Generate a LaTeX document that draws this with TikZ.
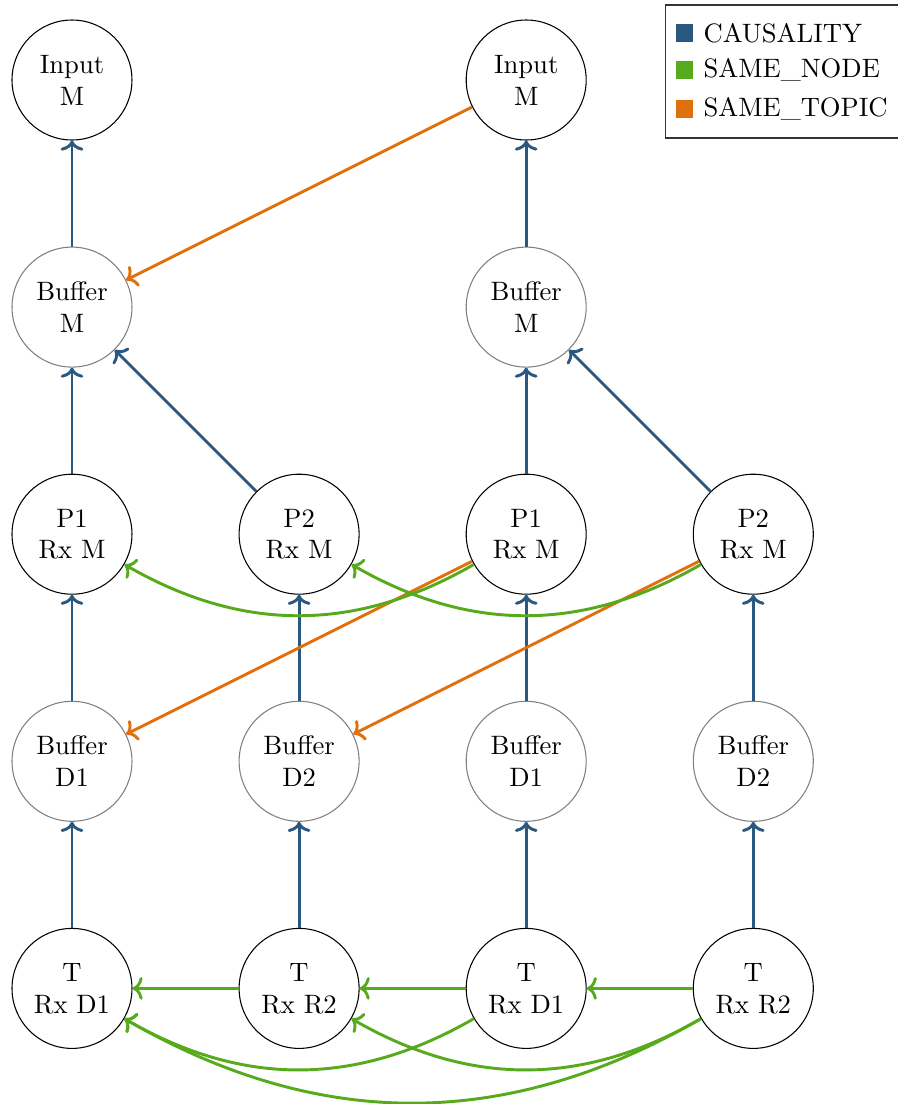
\documentclass[tikz,border=0pt]{standalone}
\usetikzlibrary{arrows.meta}
\definecolor{causal}{RGB}{41,88,128}
\definecolor{samenode}{RGB}{86,170,28}
\definecolor{sametopic}{RGB}{224,112,12}
\tikzset{
  proc/.style={circle,draw=black,line width=0.4pt,minimum size=1.585cm,inner sep=0pt,align=center},
  buf/.style={circle,draw=gray,line width=0.4pt,minimum size=1.585cm,inner sep=0pt,align=center},
  edge/.style={line width=1.1pt,-{To[length=3.8pt,width=8.5pt]}},
  causality/.style={edge,draw=causal},
  snode/.style={edge,draw=samenode},
  stopic/.style={edge,draw=sametopic},
  legsq/.style={fill=#1,minimum size=0.225cm,inner sep=0pt}
}
\begin{document}
\begin{tikzpicture}
\useasboundingbox (-0.951,1.057) rectangle (10.909,-13.527);
% row 0
\node[proc] (in0) at (0,0) {Input\\M};
\node[proc] (in2) at (6,0) {Input\\M};
% row 1
\node[buf] (bm0) at (0,-3) {Buffer\\M};
\node[buf] (bm2) at (6,-3) {Buffer\\M};
% row 2
\node[proc] (p10) at (0,-6) {P1\\Rx M};
\node[proc] (p21) at (3,-6) {P2\\Rx M};
\node[proc] (p12) at (6,-6) {P1\\Rx M};
\node[proc] (p23) at (9,-6) {P2\\Rx M};
% row 3
\node[buf] (bd0) at (0,-9) {Buffer\\D1};
\node[buf] (bd1) at (3,-9) {Buffer\\D2};
\node[buf] (bd2) at (6,-9) {Buffer\\D1};
\node[buf] (bd3) at (9,-9) {Buffer\\D2};
% row 4
\node[proc] (t0) at (0,-12) {T\\Rx D1};
\node[proc] (t1) at (3,-12) {T\\Rx R2};
\node[proc] (t2) at (6,-12) {T\\Rx D1};
\node[proc] (t3) at (9,-12) {T\\Rx R2};
% causality
\draw[causality] (bm0) -- (in0);
\draw[causality] (bm2) -- (in2);
\draw[causality] (p10) -- (bm0);
\draw[causality] (p21) -- (bm0);
\draw[causality] (p12) -- (bm2);
\draw[causality] (p23) -- (bm2);
\draw[causality] (bd0) -- (p10);
\draw[causality] (bd1) -- (p21);
\draw[causality] (bd2) -- (p12);
\draw[causality] (bd3) -- (p23);
\draw[causality] (t0) -- (bd0);
\draw[causality] (t1) -- (bd1);
\draw[causality] (t2) -- (bd2);
\draw[causality] (t3) -- (bd3);
% same topic
\draw[stopic] (in2) -- (bm0);
\draw[stopic] (p12) -- (bd0);
\draw[stopic] (p23) -- (bd1);
% same node
\draw[snode] (p12) to[bend left=30] (p10);
\draw[snode] (p23) to[bend left=30] (p21);
\draw[snode] (t1) -- (t0);
\draw[snode] (t2) -- (t1);
\draw[snode] (t3) -- (t2);
\draw[snode] (t2) to[bend left=30] (t0);
\draw[snode] (t3) to[bend left=30] (t1);
\draw[snode] (t3) to[bend left=30] (t0);
% legend
\path (7.846,0.991) coordinate (lbtl) (10.95,-0.766) coordinate (lbbr);
\draw[black!80,line width=0.4pt] (lbtl) rectangle (lbbr);
\node[legsq=causal] (sq1) at (8.091,0.621) {};
\node[legsq=samenode] (sq2) at (8.091,0.132) {};
\node[legsq=sametopic] (sq3) at (8.091,-0.383) {};
\node[anchor=west,inner sep=0pt] (l1) at (8.336,0.621) {CAUSALITY};
\node[anchor=west,inner sep=0pt] (l2) at (8.336,0.132) {SAME\_NODE};
\node[anchor=west,inner sep=0pt] (l3) at (8.336,-0.383) {SAME\_TOPIC};
\end{tikzpicture}
\end{document}
